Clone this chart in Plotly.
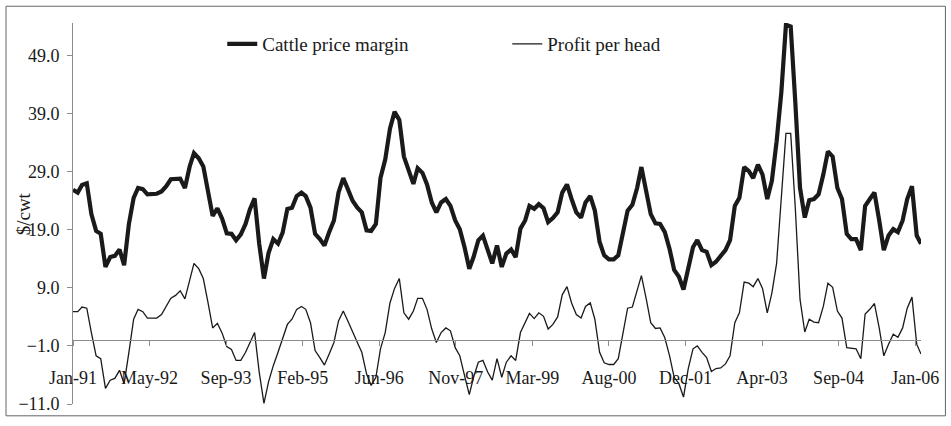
"""Cattle price margin vs profit per head, monthly Jan-91 to Mar-06 ($/cwt)."""
import numpy as np
import pandas as pd
import plotly.graph_objects as go

START_MONTH = "1991-01-01"

cattle_margin = [
    25.9, 25.4, 26.7, 27.0, 21.7, 18.8, 18.3, 12.6, 14.3, 14.5, 15.6, 12.9,
    20.0, 24.5, 26.2, 26.0, 25.1, 25.2, 25.2, 25.6, 26.5, 27.7, 27.7, 27.8,
    26.2, 29.9, 32.2, 31.3, 29.9, 25.7, 21.4, 22.7, 20.9, 18.4, 18.3, 17.2,
    18.2, 20.0, 22.5, 24.4, 16.6, 10.6, 15.0, 17.4, 16.6, 18.5, 22.6, 22.8,
    24.8, 25.4, 24.8, 22.8, 18.3, 17.4, 16.3, 18.6, 20.6, 25.4, 27.9, 26.0,
    24.0, 22.8, 22.0, 18.9, 18.8, 20.0, 27.9, 31.1, 36.4, 39.3, 37.9, 31.6,
    29.1, 26.9, 29.6, 28.8, 26.8, 23.7, 22.0, 23.7, 24.3, 23.1, 20.6, 19.1,
    16.0, 12.3, 14.3, 17.2, 18.0, 15.5, 13.2, 16.3, 12.6, 14.9, 15.6, 14.3,
    19.2, 20.6, 23.1, 22.6, 23.4, 22.7, 20.3, 21.0, 22.0, 25.4, 26.8, 24.3,
    22.0, 21.1, 23.7, 24.8, 22.3, 16.9, 14.6, 13.9, 13.9, 14.6, 18.9, 22.3,
    23.3, 26.2, 29.8, 25.7, 21.7, 20.1, 20.0, 18.6, 15.7, 12.1, 10.9, 8.7,
    12.6, 16.0, 17.2, 15.5, 15.2, 12.9, 13.5, 14.5, 15.5, 17.2, 23.1, 24.5,
    29.8, 29.1, 27.9, 30.2, 28.5, 24.3, 27.4, 34.2, 42.7, 54.3, 54.0, 41.0,
    26.2, 21.1, 24.1, 24.3, 25.1, 28.5, 32.5, 31.6, 26.2, 24.3, 18.3, 17.4,
    17.4, 15.5, 23.1, 24.3, 25.4, 20.6, 15.5, 18.0, 19.1, 18.6, 20.6, 24.3,
    26.5, 18.0, 16.6,
]

profit_per_head = [
    4.9, 4.9, 5.7, 5.5, 1.3, -2.7, -3.2, -8.3, -6.9, -6.6, -5.2, -7.5,
    -2.1, 3.6, 5.3, 4.9, 3.8, 3.8, 3.8, 4.4, 5.8, 7.2, 7.7, 8.5,
    7.1, 10.6, 13.2, 12.3, 10.6, 6.4, 2.1, 2.9, 1.2, -1.1, -1.6, -3.5,
    -3.5, -2.1, -0.4, 1.3, -5.5, -10.9, -7.2, -4.4, -2.1, 0.2, 2.7, 3.6,
    5.3, 5.8, 5.3, 3.0, -1.8, -3.0, -4.3, -2.4, -0.4, 3.3, 5.0, 3.3,
    1.3, -0.4, -2.1, -5.8, -7.8, -6.4, -1.5, 1.3, 6.4, 8.9, 10.6, 4.7,
    3.6, 5.0, 7.2, 7.2, 5.3, 1.9, -0.4, 1.3, 2.1, 1.6, -1.3, -2.7,
    -6.1, -9.4, -6.4, -3.8, -3.5, -5.5, -6.9, -3.2, -6.4, -3.8, -2.7, -3.5,
    1.3, 3.0, 4.6, 3.7, 4.7, 4.1, 1.9, 2.7, 4.0, 7.8, 9.2, 6.4,
    4.4, 3.8, 5.8, 6.4, 3.6, -2.1, -3.9, -4.2, -4.2, -3.2, 1.3, 5.5,
    5.7, 8.7, 11.1, 7.2, 3.0, 2.0, 2.1, 0.4, -2.7, -6.4, -7.5, -9.8,
    -4.9, -1.5, -1.0, -2.1, -3.0, -5.4, -4.9, -4.8, -4.1, -2.7, 3.0, 4.7,
    10.0, 9.8, 9.2, 10.6, 8.9, 4.7, 8.1, 13.2, 24.3, 35.6, 35.6, 22.8,
    7.0, 1.4, 3.6, 3.1, 3.0, 5.8, 9.8, 9.1, 5.0, 3.8, -1.3, -1.4,
    -1.5, -3.2, 4.5, 5.3, 6.3, 2.1, -2.7, -0.7, 1.0, 0.5, 2.1, 5.5,
    7.4, -0.7, -2.4,
]

tick_labels = ["Jan-91", "May-92", "Sep-93", "Feb-95", "Jun-96", "Nov-97",
               "Mar-99", "Aug-00", "Dec-01", "Apr-03", "Sep-04", "Jan-06"]
y_ticks = [-11, -1, 9, 19, 29, 39, 49]

FONT = "Liberation Serif"
INK = "#1a1a1a"
AXIS_GREY = "#8c8c8c"

months = pd.date_range(START_MONTH, periods=len(cattle_margin), freq="MS")
# Excel date axis: a label every 500 days from the first month
tick_dates = pd.Timestamp(START_MONTH) + pd.to_timedelta(
    np.arange(len(tick_labels)) * 500, unit="D")

Y_MIN, Y_MAX = -11, 54.6

fig = go.Figure()
fig.add_trace(go.Scatter(
    x=months, y=cattle_margin, mode="lines", name="Cattle price margin",
    line=dict(color=INK, width=4.2),
))
fig.add_trace(go.Scatter(
    x=months, y=profit_per_head, mode="lines", name="Profit per head",
    line=dict(color=INK, width=1.3),
))

fig.update_layout(
    width=951, height=426,
    margin=dict(l=73, r=26, t=23, b=17),
    paper_bgcolor="white", plot_bgcolor="white",
    font=dict(family=FONT, size=18, color=INK),
    legend=dict(
        orientation="h", x=0.176, y=0.945, xanchor="left", yanchor="middle",
        entrywidth=240, entrywidthmode="pixels",
        font=dict(family=FONT, size=19, color=INK),
        bgcolor="rgba(0,0,0,0)",
    ),
    xaxis=dict(
        range=[months[0], months[-1]],
        tickvals=tick_dates, ticktext=tick_labels,
        showgrid=False, zeroline=False,
        showline=True, linecolor=AXIS_GREY, linewidth=1,
        ticks="outside", ticklen=5, tickcolor=AXIS_GREY,
        ticklabelstandoff=16,
        tickfont=dict(family=FONT, size=18, color=INK),
        # category axis crosses the value axis at 0
        anchor="free", position=(0 - Y_MIN) / (Y_MAX - Y_MIN),
    ),
    yaxis=dict(
        range=[Y_MIN, Y_MAX],
        tickvals=y_ticks, tickformat=".1f",
        showgrid=False, zeroline=False,
        showline=True, linecolor=AXIS_GREY, linewidth=1,
        ticks="outside", ticklen=5, tickcolor=AXIS_GREY,
        ticklabelstandoff=4,
        tickfont=dict(family=FONT, size=18, color=INK),
    ),
    annotations=[dict(
        text="$/cwt", textangle=-90, xref="paper", yref="paper",
        x=-0.058, y=0.5, xanchor="center", yanchor="middle",
        showarrow=False, font=dict(family=FONT, size=19, color=INK),
    )],
    shapes=[dict(
        type="rect", xref="paper", yref="paper",
        x0=-0.079, x1=1.0288, y0=-0.031, y1=1.044,
        line=dict(color="#666666", width=1), fillcolor="rgba(0,0,0,0)",
        layer="below",
    )],
)

# page body has a default 8px margin; drop it so the figure fills the window
fig.write_html(
    "out.html",
    config={"displayModeBar": False},
    post_script="document.body.style.margin='0';",
)
